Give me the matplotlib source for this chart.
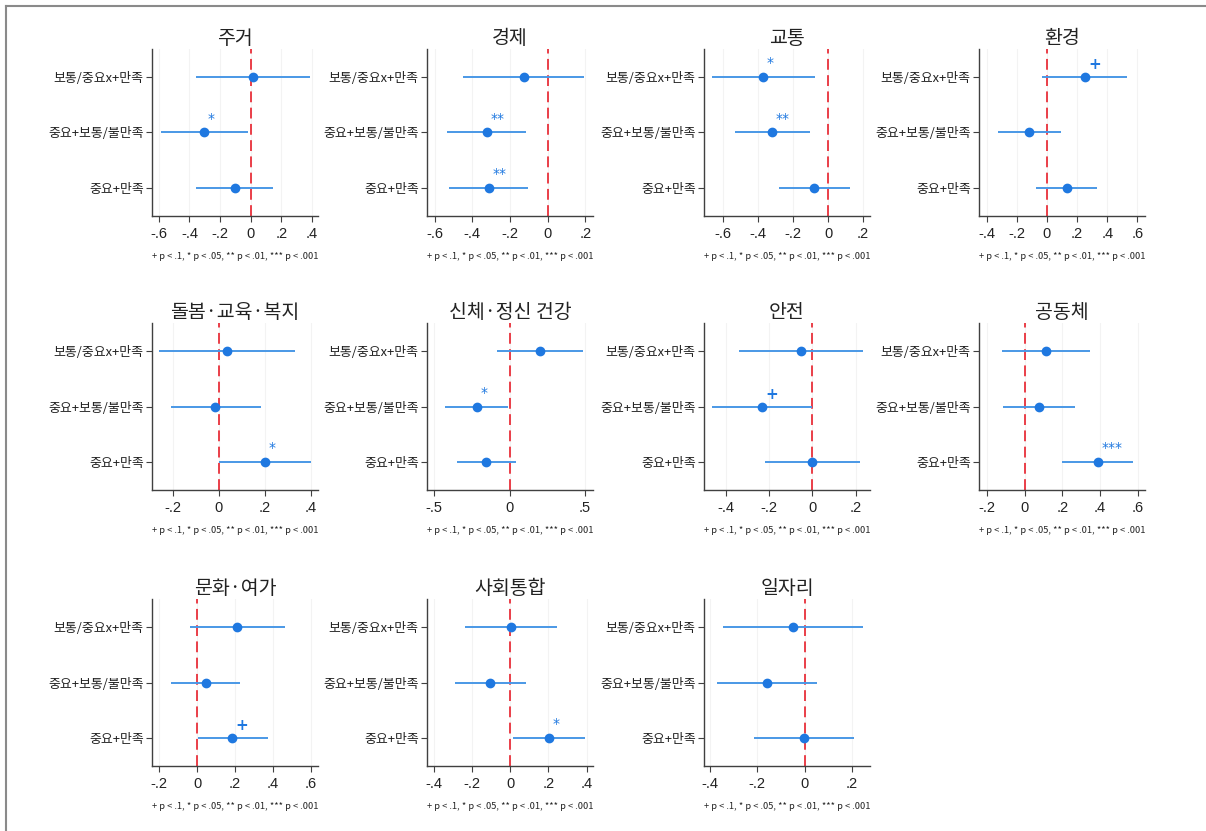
import matplotlib
matplotlib.use("Agg")
import matplotlib.pyplot as plt
from matplotlib.lines import Line2D

plt.rcParams['font.family'] = ['Noto Sans CJK KR', 'DejaVu Sans']

titles = ['주거', '경제', '교통', '환경',
          '돌봄·교육·복지', '신체·정신 건강', '안전', '공동체',
          '문화·여가', '사회통합', '일자리']
row_labels = ['보통/중요x+만족', '중요+보통/불만족', '중요+만족']

coef = [[0.015, -0.303, -0.103],
        [-0.127, -0.324, -0.313],
        [-0.371, -0.318, -0.078],
        [0.250, -0.116, 0.132],
        [0.038, -0.014, 0.202],
        [0.204, -0.217, -0.155],
        [-0.054, -0.231, 0.000],
        [0.114, 0.076, 0.389],
        [0.212, 0.046, 0.186],
        [0.003, -0.105, 0.202],
        [-0.051, -0.158, -0.003]]
lower = [[-0.356, -0.587, -0.358],
         [-0.447, -0.534, -0.522],
         [-0.665, -0.533, -0.280],
         [-0.035, -0.327, -0.070],
         [-0.257, -0.208, 0.003],
         [-0.086, -0.427, -0.350],
         [-0.338, -0.465, -0.220],
         [-0.120, -0.114, 0.199],
         [-0.040, -0.139, 0.004],
         [-0.239, -0.291, 0.016],
         [-0.344, -0.371, -0.213]]
upper = [[0.385, -0.018, 0.149],
         [0.193, -0.113, -0.102],
         [-0.074, -0.103, 0.124],
         [0.533, 0.096, 0.333],
         [0.331, 0.182, 0.399],
         [0.491, -0.009, 0.042],
         [0.232, 0.000, 0.220],
         [0.348, 0.267, 0.577],
         [0.463, 0.228, 0.377],
         [0.247, 0.082, 0.392],
         [0.246, 0.052, 0.209]]
sig = [['', '*', ''],
       ['', '**', '**'],
       ['*', '**', ''],
       ['+', '', ''],
       ['', '', '*'],
       ['', '*', ''],
       ['', '+', ''],
       ['', '', '***'],
       ['', '', '+'],
       ['', '', '*'],
       ['', '', '']]
xticks = [[-0.6, -0.4, -0.2, 0, 0.2, 0.4],
          [-0.6, -0.4, -0.2, 0, 0.2],
          [-0.6, -0.4, -0.2, 0, 0.2],
          [-0.4, -0.2, 0, 0.2, 0.4, 0.6],
          [-0.2, 0, 0.2, 0.4],
          [-0.5, 0, 0.5],
          [-0.4, -0.2, 0, 0.2],
          [-0.2, 0, 0.2, 0.4, 0.6],
          [-0.2, 0, 0.2, 0.4, 0.6],
          [-0.4, -0.2, 0, 0.2, 0.4],
          [-0.4, -0.2, 0, 0.2]]
xticklabels = [['-.6', '-.4', '-.2', '0', '.2', '.4'],
               ['-.6', '-.4', '-.2', '0', '.2'],
               ['-.6', '-.4', '-.2', '0', '.2'],
               ['-.4', '-.2', '0', '.2', '.4', '.6'],
               ['-.2', '0', '.2', '.4'],
               ['-.5', '0', '.5'],
               ['-.4', '-.2', '0', '.2'],
               ['-.2', '0', '.2', '.4', '.6'],
               ['-.2', '0', '.2', '.4', '.6'],
               ['-.4', '-.2', '0', '.2', '.4'],
               ['-.4', '-.2', '0', '.2']]
xlims = [(-0.645, 0.44), (-0.64, 0.24), (-0.709, 0.24), (-0.45, 0.65),
         (-0.289, 0.43), (-0.549, 0.555), (-0.50, 0.266), (-0.241, 0.638),
         (-0.239, 0.639), (-0.437, 0.434), (-0.426, 0.277)]
note = '+ p < .1, * p < .05, ** p < .01, *** p < .001'

W, H = 1206, 831
fig = plt.figure(figsize=(W / 100, H / 100), dpi=100)

col_left = [152, 427, 704, 979]
row_top = [49, 323, 599]
ax_w, ax_h = 166, 167

ci_color = '#4a98e6'
pt_color = '#1f78e0'
red = '#e8303a'
spine_c = '#404040'

for i, t in enumerate(titles):
    r, c = divmod(i, 4)
    left = col_left[c] / W
    bottom = 1 - (row_top[r] + ax_h) / H
    ax = fig.add_axes([left, bottom, ax_w / W, ax_h / H])
    ypos = [1, 2, 3]
    for j in range(3):
        ax.plot([lower[i][j], upper[i][j]], [ypos[j], ypos[j]], color=ci_color,
                lw=1.4, solid_capstyle='butt', zorder=2)
    ax.plot(coef[i], ypos, 'o', color=pt_color, ms=6, zorder=3)
    ax.axvline(0, color=red, lw=1.3, ls=(0, (6, 3)), zorder=1)
    for j in range(3):
        if sig[i][j]:
            s = sig[i][j]
            fs = 11 if s == '+' else 10
            fw = 'bold' if s == '+' else 'normal'
            dy = -0.22 if s == '+' else -0.25
            ax.annotate(s, (coef[i][j], ypos[j] + dy), xytext=(2.5, 0),
                        textcoords='offset points', ha='left', va='center',
                        color=pt_color, fontsize=fs, fontweight=fw,
                        family=['DejaVu Sans'])
    ax.set_ylim(3.5, 0.5)
    ax.set_xlim(*xlims[i])
    ax.set_yticks(ypos)
    ax.set_yticklabels(row_labels, fontsize=9.3, color='#222222')
    ax.set_xticks(xticks[i])
    ax.set_xticklabels(xticklabels[i], fontsize=10.5, color='#222222',
                       family=['Liberation Sans Narrow', 'Liberation Sans', 'DejaVu Sans'])
    ax.xaxis.grid(True, color='#f3f3f3', lw=0.8)
    ax.set_axisbelow(True)
    for sp in ['top', 'right']:
        ax.spines[sp].set_visible(False)
    for sp in ['left', 'bottom']:
        ax.spines[sp].set_color(spine_c)
        ax.spines[sp].set_linewidth(1.0)
    ax.tick_params(axis='both', direction='out', length=4, width=0.8,
                   color=spine_c)
    ax.tick_params(axis='x', pad=4)
    ax.tick_params(axis='y', pad=2)
    ax.set_title(t, fontsize=14, color='#222222', pad=0)
    ax.text(0.5, -0.24, note, transform=ax.transAxes, ha='center', va='center',
            fontsize=6.7, color='#222222')

fig.add_artist(Line2D([6 / W, 1], [1 - 6 / H, 1 - 6 / H], transform=fig.transFigure,
                      color='#8a8a8a', lw=1.5))
fig.add_artist(Line2D([6 / W, 6 / W], [0, 1 - 6 / H], transform=fig.transFigure,
                      color='#8a8a8a', lw=1.5))

fig.savefig('out.png', dpi=100)
